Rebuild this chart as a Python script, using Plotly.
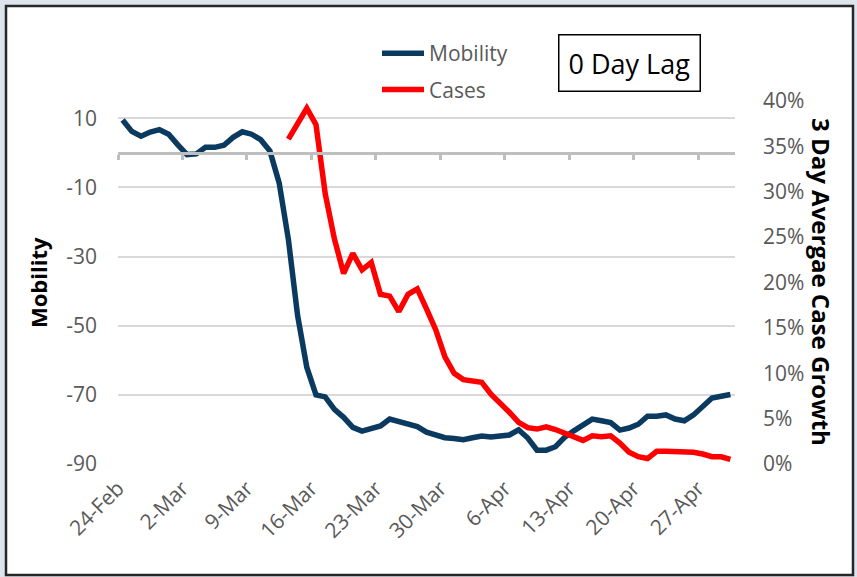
import pandas as pd
import plotly.graph_objects as go

# ---- data ----
start_date = "2020-02-24"
n_days = 67
dates = pd.date_range(start_date, periods=n_days, freq="D")

mobility = [9.5, 6.2, 4.8, 6.0, 6.7, 5.4, 2.3, -0.5, -0.3, 1.6, 1.6, 2.2, 4.5, 6.1,
            5.4, 3.8, 0.5, -8.7, -25.0, -47.0, -62.0, -70.0, -70.6, -74.2, -76.5,
            -79.4, -80.5, -79.9, -79.0, -77.0, -77.6, -78.2, -79.2, -80.8, -81.7,
            -82.4, -82.6, -83.0, -82.4, -81.9, -82.2, -81.9, -81.6, -80.1, -82.5,
            -86.0, -86.0, -85.0, -82.3, -80.4, -78.7, -77.0, -77.5, -78.0, -80.2,
            -79.6, -78.5, -76.2, -76.2, -75.8, -77.0, -77.5, -75.8, -73.3, -70.9,
            -70.4, -69.9]

cases_start_index = 18
cases = [35.8, 37.5, 39.2, 37.4, 29.8, 24.8, 21.0, 23.2, 21.4, 22.2, 18.7, 18.5,
         16.8, 18.7, 19.3, 17.1, 14.8, 11.8, 10.0, 9.3, 9.1, 9.0, 7.7, 6.8, 5.7,
         4.6, 4.0, 3.85, 4.1, 3.8, 3.4, 2.9, 2.6, 3.1, 3.0, 3.1, 2.3, 1.3, 0.8,
         0.6, 1.4, 1.4, 1.4, 1.4, 1.3, 1.1, 0.8, 0.8, 0.5]
cases = [c / 100 for c in cases]

left_ticks = [-90, -70, -50, -30, -10, 10]
left_tick_labels = ["-90", "-70", "-50", "-30", "-10", "10"]
series_names = ["Mobility", "Cases"]
annotation_text = "0 Day Lag"
left_title = "Mobility"
right_title = "3 Day Avergae Case Growth"

# ---- figure ----
x_points = dates + pd.Timedelta(hours=12)   # points centred between ticks (Excel style)
x_range = [dates[0], dates[-1] + pd.Timedelta(days=1)]
week_ms = 7 * 24 * 3600 * 1000

NAVY = "#0b3a61"
RED = "#ff0000"
GRAY_TXT = "#595959"
FONT = "Open Sans"
PAGE_BG = "#dde4ec"

fig = go.Figure()
fig.add_trace(go.Scatter(x=x_points, y=mobility, name=series_names[0], mode="lines",
                         line=dict(color=NAVY, width=5.5), legendgroup="a",
                         yaxis="y", xaxis="x"))
fig.add_trace(go.Scatter(x=x_points[cases_start_index:], y=cases, name=series_names[1],
                         mode="lines", line=dict(color=RED, width=5.5), legendgroup="b",
                         yaxis="y2", xaxis="x"))
# helper trace so the zero-crossing category axis is drawn
fig.add_trace(go.Scatter(x=[x_points[0]], y=[0], mode="markers", marker=dict(opacity=0),
                         showlegend=False, hoverinfo="skip", xaxis="x2", yaxis="y"))

L, R, T, B = 118, 122, 101, 113
W, H = 857, 577
pw, ph = W - L - R, H - T - B
def px(x):
    return (x - L) / pw
def py(y):
    return (H - B - y) / ph

y_min, y_max = -90, 15
zero_pos = (0 - y_min) / (y_max - y_min)

fig.update_layout(
    width=W, height=H,
    margin=dict(l=L, r=R, t=T, b=B, pad=0),
    paper_bgcolor=PAGE_BG,
    plot_bgcolor="rgba(0,0,0,0)",
    font=dict(family=FONT, color=GRAY_TXT, size=21),
    showlegend=True,
    legend=dict(x=px(377), y=py(33), xanchor="left", yanchor="top",
                bgcolor="rgba(0,0,0,0)", font=dict(size=21, color=GRAY_TXT),
                tracegroupgap=6, itemwidth=42, traceorder="grouped"),
    xaxis=dict(type="date", range=x_range, tick0=dates[0], dtick=week_ms,
               tickformat="%-d-%b", tickangle=-45, showgrid=False, showline=False,
               zeroline=False, ticks="", ticklabelstandoff=7,
               tickfont=dict(size=21, color=GRAY_TXT)),
    xaxis2=dict(type="date", range=x_range, tick0=dates[0], dtick=week_ms,
                overlaying="x", anchor="free", position=zero_pos,
                showticklabels=False, showgrid=False, zeroline=False,
                showline=True, linecolor="#bfbfbf", linewidth=3,
                ticks="outside", ticklen=5, tickwidth=3, tickcolor="#bfbfbf"),
    yaxis=dict(range=[y_min, y_max], tickvals=left_ticks, ticktext=left_tick_labels,
               showgrid=True, gridcolor="#d9d9d9", gridwidth=2, zeroline=False,
               showline=False, ticks="", ticklabelstandoff=20,
               tickfont=dict(size=21, color=GRAY_TXT)),
    yaxis2=dict(range=[0, 0.40], dtick=0.05, tickformat=".0%", overlaying="y",
                side="right", showgrid=False, zeroline=False, showline=False,
                ticks="", ticklabelstandoff=27, tickfont=dict(size=21, color=GRAY_TXT)),
    shapes=[dict(type="rect", xref="paper", yref="paper",
                 x0=px(6), x1=px(853), y0=py(575), y1=py(6),
                 line=dict(color="#262626", width=2.5), fillcolor="white", layer="below")],
    annotations=[
        dict(text=annotation_text, xref="paper", yref="paper", x=px(629.5), y=py(62.5),
             xanchor="center", yanchor="middle", showarrow=False,
             font=dict(size=27, color="black", family=FONT),
             bordercolor="black", borderwidth=1.5, borderpad=9, bgcolor="white"),
        dict(text="<b>" + left_title + "</b>", xref="paper", yref="paper",
             x=px(38), y=py(283), xanchor="center", yanchor="middle",
             showarrow=False, textangle=-90,
             font=dict(size=22, color="black", family=FONT)),
        dict(text="<b>" + right_title + "</b>", xref="paper", yref="paper",
             x=px(822), y=py(282), xanchor="center", yanchor="middle",
             showarrow=False, textangle=90,
             font=dict(size=24, color="black", family=FONT)),
    ],
)

fig.write_html("out.html",
               config={"displayModeBar": False},
               post_script="document.body.style.margin='0';"
                           "document.body.style.background='" + PAGE_BG + "';")
